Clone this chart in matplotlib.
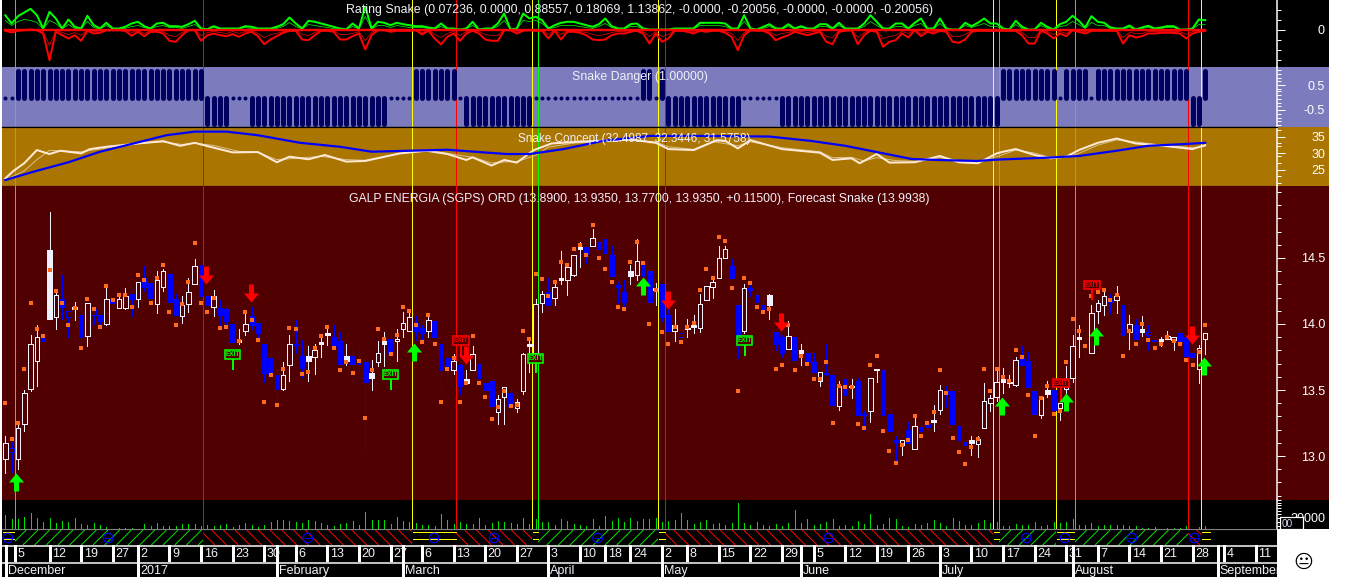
import numpy as np
import matplotlib
matplotlib.use("Agg")
import matplotlib.pyplot as plt
from matplotlib.collections import LineCollection
from matplotlib.patches import Rectangle

W, H = 1352, 577
plt.rcParams['font.family'] = ['Liberation Sans', 'DejaVu Sans']

# daily bars, Dec 2016 - Aug 2017
opens = [12.98,13.06,12.98,13.24,13.51,13.72,13.92,14.04,14.05,14.19,
         14.10,14.11,14.07,13.91,14.11,14.07,14.00,14.18,14.12,14.12,
         14.23,14.19,14.35,14.31,14.15,14.28,14.38,14.19,14.06,14.15,
         14.30,14.45,14.21,14.13,14.12,14.11,14.00,13.86,13.95,14.06,
         14.01,13.85,13.74,13.61,13.51,13.69,13.85,13.76,13.72,13.75,
         13.85,13.92,13.90,13.87,13.72,13.76,13.73,13.71,13.59,13.71,
         13.85,13.89,13.87,13.96,13.95,14.01,13.97,13.95,14.02,13.85,
         13.74,13.65,13.69,13.55,13.65,13.70,13.55,13.57,13.33,13.45,
         13.48,13.36,13.49,13.83,13.78,14.16,14.24,14.20,14.33,14.33,
         14.37,14.57,14.58,14.59,14.62,14.64,14.52,14.29,14.24,14.36,
         14.37,14.46,14.40,14.26,14.30,14.07,13.95,13.93,13.96,13.98,
         13.97,14.18,14.28,14.35,14.50,14.44,14.14,13.95,14.27,14.22,
         14.14,14.14,13.94,13.90,13.81,13.90,13.78,13.78,13.71,13.57,
         13.63,13.61,13.38,13.58,13.52,13.57,13.32,13.34,13.65,13.65,
         13.32,13.12,13.08,13.20,13.05,13.22,13.24,13.26,13.35,13.49,
         13.49,13.23,13.11,13.10,13.09,13.21,13.40,13.45,13.56,13.55,
         13.54,13.74,13.72,13.49,13.31,13.47,13.50,13.36,13.51,13.59,
         13.89,13.85,13.78,14.10,14.14,14.18,14.18,14.14,13.94,13.99,
         13.94,13.94,13.88,13.87,13.89,13.88,13.93,13.90,13.78,13.66,
         13.89]
highs = [13.15,13.11,13.25,13.50,13.92,13.99,14.00,14.85,14.26,14.37,
         14.10,14.17,14.16,14.16,14.12,14.07,14.28,14.21,14.23,14.27,
         14.23,14.32,14.44,14.31,14.40,14.42,14.40,14.23,14.21,14.35,
         14.49,14.45,14.26,14.26,14.18,14.12,14.00,13.96,14.09,14.13,
         14.01,13.85,13.83,13.65,13.71,13.92,14.03,13.88,13.83,13.85,
         13.92,13.99,13.99,13.94,13.85,13.83,13.82,13.76,13.73,13.87,
         13.94,13.96,13.96,14.09,14.08,14.06,13.99,14.07,14.02,13.85,
         13.88,13.77,13.70,13.65,13.83,13.75,13.66,13.57,13.46,13.52,
         13.53,13.43,13.78,13.90,14.19,14.25,14.35,14.33,14.55,14.46,
         14.52,14.62,14.58,14.72,14.62,14.64,14.59,14.32,14.33,14.45,
         14.64,14.56,14.40,14.31,14.30,14.17,14.11,13.93,14.04,14.07,
         14.23,14.29,14.36,14.59,14.59,14.49,14.14,14.30,14.31,14.29,
         14.22,14.23,13.94,13.92,14.02,13.90,13.85,13.88,13.78,13.64,
         13.85,13.70,13.57,13.61,13.58,13.59,13.34,13.59,13.66,13.65,
         13.32,13.15,13.12,13.26,13.29,13.24,13.33,13.39,13.54,13.53,
         13.49,13.35,13.13,13.15,13.15,13.55,13.46,13.65,13.67,13.61,
         13.75,13.83,13.79,13.50,13.45,13.57,13.50,13.40,13.68,13.92,
         13.99,13.92,14.14,14.18,14.24,14.23,14.29,14.14,14.07,14.04,
         14.06,13.99,13.95,13.90,13.95,13.90,13.93,13.90,13.81,13.84,
         13.935]
lows = [12.87,12.88,12.90,13.19,13.49,13.53,13.75,14.04,13.96,14.04,
        13.90,14.03,13.86,13.83,14.00,13.97,13.99,14.13,14.12,14.11,
        14.06,14.13,14.25,14.20,14.08,14.25,14.17,14.07,14.01,14.09,
        14.30,14.21,14.14,14.06,13.98,13.98,13.86,13.85,13.92,13.96,
        13.88,13.56,13.62,13.42,13.50,13.57,13.78,13.60,13.57,13.62,
        13.75,13.84,13.82,13.70,13.69,13.55,13.64,13.04,13.50,13.68,
        13.68,13.63,13.72,13.90,13.95,13.88,13.87,13.90,13.88,13.46,
        13.59,13.62,13.47,13.55,13.65,13.59,13.47,13.38,13.24,13.24,
        13.38,13.33,13.47,13.64,13.78,14.09,14.14,14.14,14.30,14.22,
        14.36,14.43,14.46,14.59,14.42,14.30,14.36,14.16,14.12,14.30,
        14.33,14.36,14.13,14.14,14.02,13.95,13.87,13.85,13.90,13.93,
        13.94,14.18,14.20,14.35,14.50,14.35,13.74,13.93,14.21,14.16,
        14.11,14.04,13.80,13.75,13.81,13.73,13.69,13.64,13.64,13.53,
        13.61,13.34,13.35,13.46,13.44,13.31,13.20,13.26,13.56,13.31,
        13.19,12.96,13.01,13.10,13.05,13.01,13.15,13.19,13.32,13.37,
        13.21,13.08,12.95,13.01,12.99,13.21,13.34,13.42,13.48,13.52,
        13.53,13.69,13.52,13.32,13.29,13.45,13.35,13.27,13.46,13.56,
        13.75,13.73,13.78,14.01,14.07,14.08,14.08,13.88,13.81,13.89,
        13.91,13.80,13.78,13.83,13.89,13.80,13.87,13.76,13.68,13.55,
        13.77]
closes = [13.10,13.03,13.21,13.48,13.85,13.90,13.87,14.56,14.22,14.13,
          14.05,14.13,13.90,14.16,14.07,14.02,14.19,14.16,14.19,14.21,
          14.19,14.32,14.28,14.20,14.33,14.40,14.17,14.07,14.14,14.24,
          14.44,14.21,14.14,14.21,14.07,14.02,13.86,13.88,14.00,13.99,
          13.93,13.63,13.62,13.51,13.61,13.85,13.84,13.67,13.76,13.80,
          13.86,13.93,13.83,13.70,13.76,13.70,13.70,13.56,13.63,13.78,
          13.87,13.78,13.89,14.01,14.05,13.95,13.93,14.03,13.90,13.65,
          13.66,13.72,13.53,13.58,13.77,13.59,13.50,13.38,13.43,13.52,
          13.38,13.41,13.77,13.85,14.15,14.23,14.14,14.28,14.35,14.43,
          14.52,14.58,14.53,14.65,14.57,14.54,14.36,14.28,14.17,14.40,
          14.48,14.36,14.17,14.27,14.05,13.95,13.99,13.90,13.97,13.99,
          14.15,14.29,14.32,14.50,14.57,14.35,13.89,14.27,14.26,14.17,
          14.11,14.22,13.85,13.78,13.91,13.73,13.80,13.71,13.64,13.64,
          13.62,13.39,13.53,13.46,13.53,13.31,13.31,13.59,13.66,13.31,
          13.19,13.11,13.12,13.10,13.23,13.19,13.22,13.27,13.50,13.47,
          13.24,13.12,13.08,13.12,13.13,13.42,13.44,13.56,13.58,13.56,
          13.73,13.69,13.52,13.32,13.45,13.50,13.35,13.40,13.53,13.83,
          13.90,13.84,14.08,14.16,14.21,14.17,14.21,13.92,14.00,13.89,
          13.96,13.92,13.87,13.89,13.91,13.90,13.87,13.76,13.75,13.82,
          13.935]
solid_white = [7,11,37,48,50,51,54,58,60,73,83,88,91,99,103,108,109,121,126,134,147,153,158,165,170,180,183]
open_blue = [1,10,14,107,181]

forecast = [13.40,13.13,13.25,13.66,14.16,13.96,13.91,14.41,14.25,14.16,
            13.99,14.12,13.82,14.19,14.11,13.98,14.29,14.18,14.22,14.22,
            14.13,14.37,14.33,14.16,14.35,14.45,14.09,13.99,14.15,14.32,
            14.61,14.16,14.09,14.20,13.97,13.98,np.nan,13.87,14.09,14.03,
            13.88,13.41,13.61,13.39,13.66,13.97,13.96,13.62,13.64,13.82,
            13.91,13.98,13.82,13.65,13.71,13.63,13.72,13.29,13.65,13.96,
            13.89,13.77,13.92,14.13,14.10,13.99,13.86,14.07,13.85,13.41,
            13.66,13.74,13.41,13.55,13.91,13.55,13.45,13.28,13.37,13.49,
            13.38,13.39,13.95,13.89,14.38,14.34,14.21,14.32,14.47,14.45,
            14.57,14.60,14.52,14.75,14.50,14.42,14.32,14.13,14.11,14.47,
            14.62,14.46,14.00,14.26,13.94,13.85,13.98,13.86,13.98,14.01,
            14.26,14.42,14.35,14.66,14.63,14.27,13.49,14.35,14.31,14.13,
            14.09,14.11,13.66,13.69,13.99,13.65,13.76,13.70,13.58,13.58,
            13.71,13.25,13.53,13.52,13.52,13.24,13.21,13.69,13.76,13.19,
            13.04,12.95,13.08,13.12,13.30,13.15,13.25,13.33,13.65,13.48,
            13.14,13.03,12.94,13.07,13.13,13.66,13.49,13.66,13.60,13.57,
            13.80,13.75,13.46,13.15,13.44,13.53,13.32,13.34,13.71,14.04,
            13.95,13.83,14.21,14.24,14.26,14.18,14.22,13.76,13.95,13.85,
            14.00,13.88,13.82,13.85,13.90,13.87,13.85,13.73,13.69,13.79,
            13.99]

# buy / sell arrows and exit flags (bar position, price)
up_arrow_bar = [1.77,64.77,100.93,157.78,167.92,172.76,189.86]
up_arrow_price = [12.803,13.788,14.288,13.379,13.409,13.909,13.682]
down_arrow_bar = [31.73,38.86,72.95,104.89,122.79,187.87]
down_arrow_price = [14.371,14.235,13.765,14.182,14.015,13.917]
exit_green_bar = [36.0,61.03,83.99,117.09]
exit_green_top = [13.769,13.617,13.739,13.875]
exit_green_end = [13.652,13.50,13.629,13.758]
exit_red_bar = [72.16,172.08,167.17]
exit_red_top = [13.875,14.295,13.553]
exit_red_end = [13.758,14.182,13.409]

# signal lines across the panels
signal_bar = [1.46,31.35,64.45,71.42,83.45,84.4,103.4,104.5,156.45,157.4,166.4,169.4,187.3,189.4]
signal_color = ['#00ff00','#ff0000','#ffff00','#ff0000','#ffff00','#00ff00','#ffff00','#ff0000',
                '#ffff00','#00ff00','#ffff00','#00ff00','#ff0000','#ffff00']

# Rating Snake
rating_green = [1.43,.6,1.33,1.7,2.07,1.43,.1,1.77,1.1,.1,
                1,.27,.1,1.37,.43,.1,.67,.1,.1,.27,
                .6,.77,.33,.1,.6,.67,.33,.33,.27,.53,
                .87,.1,.03,.33,.1,.1,.1,.1,.33,.27,
                .1,.1,.1,.27,.53,1.2,.6,.1,.87,.77,
                .6,.43,.27,.1,.03,.6,.1,2.27,.1,.77,
                .67,.43,.67,.53,.43,.33,.33,.2,.1,.6,
                .1,.1,0,.1,.77,0,.1,.1,.6,1.6,
                0,.1,1.6,1.1,1.27,.93,.1,.43,.67,.77,
                .77,.6,.43,.27,.53,1.1,.33,.1,.1,.53,
                .6,.1,0,0,0,0,.1,.1,.1,.1,
                .67,.67,.67,.67,.6,.1,.1,1.43,.1,0,
                .27,.53,.1,.1,.53,.1,.33,.1,.1,.53,
                .53,.1,.67,.1,.1,.1,.6,1.43,.77,.1,
                .1,.6,.6,.1,.67,1.1,.1,.1,1.1,.1,
                0,0,.67,.33,.67,1.1,.6,.6,.1,0,
                .87,.27,0,0,.67,.27,0,.53,.77,1.37,
                .87,.2,1.33,.77,.67,.2,.1,.1,.4,0,
                .2,.37,.1,.2,.33,.33,0,0,.1,1,
                .93]
rating_red = [-.13,-.3,-.13,-.07,0,-.07,-.4,-3.07,-.23,-.57,
              -.9,-.57,-1.13,-.13,-.4,-.33,-.07,-.07,-.07,-.13,
              -.63,-.23,-.67,-.23,-.23,-.4,-1.13,-1.23,-.57,-.07,
              -.07,-1.13,-.57,-.4,-.57,-.67,-.47,-.73,-.4,-.23,
              -.67,-1.47,-1,-.67,-.33,-.13,-.13,-1,-1.07,-.57,
              -.13,-.13,-.23,-1,-1,-.67,-.4,-2,-.57,-.07,
              -.07,-.23,-.13,-.13,-.13,-.07,-.5,-.13,-.9,-1.5,
              -.73,-.4,-1.13,-.4,-.13,-.4,-1,-1.13,-1.13,-.07,
              -.07,-.4,-.13,-.07,-.13,-.13,-.9,-.13,-1,-.23,
              -.23,-.33,-.57,-1,-1.07,-1,-.57,-.4,-.4,-.23,
              -.13,-.4,-1.4,-.4,-1.23,-.9,-.13,-.13,-.23,-.4,
              -.13,-.23,-.13,-.13,-.33,-.73,-2.07,-.57,-.07,-.13,
              -.13,-.4,-1.07,-.8,-.57,-.23,-.4,-.57,-.4,-.23,
              -1.23,-1.47,-.23,-.13,-.07,-1.47,-.57,-.13,-.23,-1.73,
              -1.23,-1.07,-.4,-.8,-.07,-.67,-.23,-.4,-.13,-.23,
              -1.23,-1.33,-1,-.23,-.13,-.13,-.13,-.13,-.13,-.13,
              -.13,-.57,-1.4,-1.4,-.13,-.4,-.9,-.4,-.67,-.07,
              -.23,-.4,-.13,-.13,-.13,-.13,-.13,-1.4,-.57,-.8,
              -.67,-.4,-.4,-.33,-.33,-.33,-.4,-.9,-.4,-.23,-.13]
rating_green_thin = [.9,.4,.8,1.0,.9,.7,.05,.9,.6,.05,
                     .5,.1,.05,.8,.2,.05,.4,.05,.05,.1,
                     .3,.4,.2,.05,.3,.4,.2,.2,.1,.3,
                     .5,.05,0,.2,.05,.05,.05,.05,.2,.1,
                     .05,.05,.05,.1,.3,.7,.3,.05,.5,.4,
                     .3,.2,.1,.05,0,.3,.05,1.3,.05,.4,
                     .4,.2,.4,.3,.2,.2,.2,.1,.05,.3,
                     .05,.05,0,.05,.4,0,.05,.05,.3,.9,
                     0,.05,.9,.8,.9,.6,.05,.2,.4,.4,
                     .4,.3,.2,.1,.3,.6,.2,.05,.05,.3,
                     .3,.05,0,0,0,0,.05,.05,.05,.05,
                     .4,.4,.4,.4,.3,.05,.05,.8,.05,0,
                     .1,.3,.05,.05,.3,.05,.2,.05,.05,.3,
                     .3,.05,.4,.05,.05,.05,.3,.8,.4,.05,
                     .05,.3,.3,.05,.4,.6,.05,.05,.6,.05,
                     0,0,.4,.2,.4,.6,.3,.3,.05,0,
                     .5,.1,0,0,.4,.1,0,.3,.4,.8,
                     .5,.1,.7,.4,.4,.1,.05,.05,.2,0,
                     .1,.2,.05,.1,.2,.2,0,0,.05,.5,
                     .5]
rating_red_thin = [-.05,-.15,-.05,0,0,0,-.2,-1.6,-.1,-.3,
                   -.5,-.3,-.6,-.05,-.2,-.15,0,0,0,-.05,
                   -.3,-.1,-.4,-.1,-.1,-.2,-.6,-.7,-.3,0,
                   0,-.6,-.3,-.2,-.3,-.4,-.2,-.4,-.2,-.1,
                   -.4,-.8,-.5,-.4,-.2,-.05,-.05,-.5,-.6,-.3,
                   -.05,-.05,-.1,-.5,-.5,-.4,-.2,-1.1,-.3,0,
                   0,-.1,-.05,-.05,-.05,0,-.3,-.05,-.5,-.8,
                   -.4,-.2,-.6,-.2,-.05,-.2,-.5,-.6,-.6,0,
                   0,-.2,-.05,0,-.05,-.05,-.5,-.05,-.5,-.1,
                   -.1,-.2,-.3,-.5,-.6,-.5,-.3,-.2,-.2,-.1,
                   -.05,-.2,-.7,-.2,-.7,-.5,-.05,-.05,-.1,-.2,
                   -.05,-.1,-.05,-.05,-.2,-.4,-1.1,-.3,0,-.05,
                   -.05,-.2,-.6,-.4,-.3,-.1,-.2,-.3,-.2,-.1,
                   -.7,-.8,-.1,-.05,0,-.8,-.3,-.05,-.1,-.9,
                   -.7,-.6,-.2,-.4,0,-.4,-.1,-.2,-.05,-.1,
                   -.7,-.7,-.5,-.1,-.05,-.05,-.05,-.05,-.05,-.05,
                   -.05,-.3,-.8,-.8,-.05,-.2,-.5,-.2,-.4,0,
                   -.1,-.2,-.05,-.05,-.05,-.05,-.05,-.8,-.3,-.4,
                   -.4,-.2,-.2,-.2,-.2,-.2,-.2,-.5,-.2,-.1,-.05]

# Snake Danger, as runs of equal state
danger_levels = [0,1,-1,0,-1,0,1,0,-1,0,1,0,1,-1,0,-1,1,0,1,0,1,-1,1]
danger_counts = [2,30,4,3,22,4,7,1,11,17,2,1,1,12,6,35,9,1,4,1,15,2,1]

# Snake Concept
concept_blue_bar = [0,4.4,10,15,20.3,25.5,30,35,40,46.7,53,58,64,70,79.4,83,88.4,94.7,102,110,121,127.5,133,138,143.5,147.5,153.9,157,165,170,176,181,186.5,190]
concept_blue = [21.8,24.3,27.2,30.4,32.9,35.4,36.5,36.5,35.4,33.1,31.9,30.4,30.7,31.0,29.7,29.7,31.2,33.7,35.2,35.2,35.0,33.7,32.2,30.3,28.2,27.9,27.6,28.0,28.6,29.1,30.7,32.2,32.7,33.1]
concept_white_bar = [0,1.3,3,5,7,8.7,12,13.4,16,21,25,27.7,30,32,36,40,43,45,48,50.6,54,57,62.5,66.7,70,73,74,77,79,81,83.7,86.5,90.5,99,103,105,109,112.7,114,116,118,123,129,131,134,135.3,138,140,144,148,151,154,157,158,160,163,165.5,168,170,173,176,179,182.5,188,190]
concept_white = [22.3,24.6,26.9,30.9,29.7,30.7,29.9,31.2,31.9,32.9,33.6,32.2,33.1,32.1,30.2,30.3,27.2,28.9,28.1,29.4,27.4,27.6,29.9,30.7,29.7,27.9,28.7,26.2,27.9,27.1,30.9,32.9,33.4,34.1,33.1,31.2,30.9,33.9,33.7,31.4,33.9,31.2,30.1,27.9,28.4,26.9,29.7,27.1,27.2,29.1,27.2,26.9,29.9,30.4,31.2,29.4,28.4,28.9,30.9,33.1,34.4,32.9,32.4,31.2,32.4]
concept_thin_bar = [0,3,5,7,12,16,21,25,28,30,33,37,40,43,46,50,54,57,62,67,70,74,77,79,81,84,86,90,99,103,105,109,112,116,118,123,129,131,134,136,138,141,144,148,151,154,157,160,163,165,168,170,173,176,179,182,188,190]
concept_thin = [21.8,24.6,28,30.8,30.4,31.5,32.9,33.4,32.6,33,32.3,30.5,30.2,28,28.4,29,28,27.8,29.7,30.7,29.9,28.7,27,27.3,27.4,29.3,31.8,33,33.9,33.4,31.9,31.1,33.5,32.2,33.4,31.6,30.4,28.6,28.7,27.6,28.6,27.7,27.5,28.6,27.7,27.2,28.9,30.9,30,28.9,28.8,29.9,32.4,34,33.4,32.6,31.6,32]

# volume, in tenths of the label unit
volume = [14,10,10,12,16,11,7,11,6,8,
          7,11,5,4,6,4,2,.5,1,1,
          1,.3,5,3,6,3,3,3,5,5,
          5,3,4,3,4,5,2,4,6,4,
          2,4,7,9,9,8,7,6,9,8,
          6,4,3,5,6,8,4,17,9,9,
          9,5,12,8,7,6,4,4,3,15,
          9,5,7,5,5,11,4,6,8,7,
          6,5,11,5,10,7,7,4,10,8,
          5,4,3,10,3,13,8,11,7,11,
          8,10,10,11,7,8,9,16,9,5,
          7,9,5,6,4,6,26,6,4,7,
          4,3,5,3,6,19,6,10,4,5,
          7,10,3,4,3,8,5,15,4,5,
          11,10,3,2,5,4,6,9,6,3,
          11,8,4,4,6,9,6,7,3,3,
          5,4,4,7,3,4,7,6,7,10,
          4,4,6,3,4,4,4,4,3,3,
          1,.7,2,.5,1,1,1,3,.5,2,
          3]

# trend strip: start, end, kind and icon position of each stretch
strip_start = [-0.5,1.46,31.35,64.45,71.42,83.45,84.4,103.4,104.5,156.45,157.4,166.4,169.4,187.3,189.4]
strip_end = [1.46,31.35,64.45,71.42,83.45,84.4,103.4,104.5,156.45,157.4,166.4,169.4,187.3,189.4,190.8]
strip_kind = ['y','g','r','y','r','y','g','y','r','y','g','y','g','r','y']
icon_bar = [0.4,16.3,47.9,67.9,77.4,93.8,130.4,161.7,167.8,178.4,188.3]

# date axis
day_bar = [1.6,7,12,17,21,26,31,36,41,46,51,56,61,66,71,76,81,86,91,95,99,104,108,113,118,123,128,133,138,143,148,153,158,163,168,173,178,183,188,193,198]
day_label = ['5','12','19','27','2','9','16','23','30','6','13','20','27','6','13','20','27','3','10','18','24','2','8','15','22','29','5','12','19','26','3','10','17','24','31','7','14','21','28','4','11']
month_bar = [0.1,21,43,63,86,104,126,148,169,192]
month_label = ['December','2017','February','March','April','May','June','July','August','September']

BAR0, BARSTEP = 5.3, 6.315
XLIM = ((2 - BAR0) / BARSTEP, (1277 - BAR0) / BARSTEP)
bars = np.arange(len(opens))
PANEL = '#500000'
TXT = '#f0f0f8'


def panel_axes(y0, y1, color, x0=2, x1=1277):
    ax = fig.add_axes([x0 / W, 1 - y1 / H, (x1 - x0) / W, (y1 - y0) / H])
    ax.set_facecolor(color)
    ax.set_xlim(*XLIM)
    ax.set_xticks([])
    ax.set_yticks([])
    for s in ax.spines.values():
        s.set_visible(False)
    return ax


def right_axis(ax, y0, y1, color, majors, labels, minors):
    # coloured column right of the plot
    col = fig.add_axes([1277 / W, 1 - y1 / H, 52 / W, (y1 - y0) / H], zorder=-1)
    col.set_facecolor(color)
    col.set_xticks([])
    col.set_yticks([])
    for s in col.spines.values():
        s.set_visible(False)
    ax.yaxis.tick_right()
    ax.spines['right'].set_visible(True)
    ax.spines['right'].set_color('white')
    ax.spines['right'].set_linewidth(1.5)
    ax.set_yticks(majors, labels)
    ax.set_yticks(minors, minor=True)
    ax.tick_params(axis='y', which='major', colors='white', length=8, width=1, pad=40, labelsize=12.5)
    ax.tick_params(axis='y', which='minor', colors='white', length=4, width=1)
    for t in ax.get_yticklabels():
        t.set_ha('right')


def signals(ax):
    ax.vlines(signal_bar, 0, 1, transform=ax.get_xaxis_transform(), colors=signal_color, lw=1, antialiased=False, zorder=1.5)


fig = plt.figure(figsize=(W / 72, H / 72), dpi=72, facecolor='white')

# Rating Snake
ax1 = panel_axes(0, 67, 'black')
ax1.set_ylim(-3.75, 2.95)
signals(ax1)
ax1.plot(bars, rating_green_thin, color='#00ff00', lw=0.7, zorder=2)
ax1.plot(bars, rating_red_thin, color='#ff0000', lw=0.7, zorder=2)
ax1.plot(bars, rating_green, color='#00ff00', lw=2, zorder=3)
ax1.plot(bars, rating_red, color='#ff0000', lw=2, zorder=3)
ax1.plot(bars, np.full(len(bars), -0.05), color='#ff0000', lw=2.4, zorder=4)
right_axis(ax1, 0, 67, 'black', [0], ['0'], [-3, -2, -1, 1, 2])

# Snake Danger
ax2 = panel_axes(67, 127, '#7b7bbd')
ax2.set_ylim(-1.18, 1.22)
signals(ax2)
danger = np.repeat(danger_levels, danger_counts) * 1.05
on = danger != 0
ax2.vlines(bars[on], 0, danger[on], colors='#000060', lw=5, capstyle='round', zorder=2)
ax2.scatter(bars[~on], danger[~on], s=16, color='#000060', marker='o', linewidths=0, zorder=2)
right_axis(ax2, 67, 127, '#7b7bbd', [0.5, -0.5], ['0.5', '-0.5'],
           [-1.1, -.95, -.8, -.65, -.35, -.2, -.05, .1, .25, .35, .65, .8, .95, 1.1])
ax2.axhline(-1.18, color='black', lw=1.2)

# Snake Concept
ax3 = panel_axes(127, 186, '#aa7500')
ax3.set_ylim(20, 37.9)
signals(ax3)
ax3.plot(concept_thin_bar, concept_thin, color='#d8be8c', lw=1, zorder=2)
ax3.plot(concept_white_bar, concept_white, color='#ffe9d6', lw=2, zorder=3)
ax3.plot(concept_blue_bar, concept_blue, color='#0000ff', lw=2.2, zorder=4)
right_axis(ax3, 127, 186, '#aa7500', [35, 30, 25], ['35', '30', '25'], [21, 23, 27, 29, 32, 33, 37])
ax3.spines['top'].set_visible(True)
ax3.spines['top'].set_linewidth(1.2)
ax3.spines['top'].set_color('black')
ax3.axhline(20, color='black', lw=1.2)

# price panel
ax4 = panel_axes(186, 500, PANEL)
ax4.set_ylim(12.667, 15.045)
signals(ax4)
o = np.array(opens)
c = np.array(closes)
up = c >= o
filled = np.isin(bars, solid_white)
hollow_blue = np.isin(bars, open_blue)
wick_col = np.where(up, '#f0f0ff', '#0000ff')
ax4.vlines(bars, lows, highs, colors=wick_col, lw=1, antialiased=False, zorder=2)
tops = np.maximum(o, c)
bots = np.minimum(o, c)
heights = np.maximum(tops - bots, 0.012)
face = [('#f0f0ff' if filled[i] else PANEL) if up[i] else (PANEL if hollow_blue[i] else '#0000ff') for i in bars]
edge = ['#f0f0ff' if up[i] else '#0000ff' for i in bars]
ax4.bar(bars, heights, bottom=bots, width=0.72, color=face, edgecolor=edge, linewidth=1, zorder=3, antialiased=False)
dot_verts = [(-2, -1.6), (2, -1.6), (2, 1.6), (-2, 1.6)]
ax4.scatter(bars, forecast, s=22, color='#ff6a1e', marker=dot_verts, linewidths=0, zorder=4)

up_verts = [(0, 9), (7.5, 0), (2.5, 0), (2.5, -9), (-2.5, -9), (-2.5, 0), (-7.5, 0)]
down_verts = [(x, -y) for x, y in up_verts]
ax4.scatter(up_arrow_bar, up_arrow_price, s=324, marker=up_verts, color='#00ff00', linewidths=0, zorder=6)
ax4.scatter(down_arrow_bar, down_arrow_price, s=324, marker=down_verts, color='#ff0000', linewidths=0, zorder=6)
for bar_list, top_list, end_list, col in [(exit_green_bar, exit_green_top, exit_green_end, '#00ff00'),
                                          (exit_red_bar, exit_red_top, exit_red_end, '#ff0000')]:
    ax4.vlines(bar_list, end_list, top_list, colors=col, lw=2, zorder=5, antialiased=False)
    for b, t in zip(bar_list, top_list):
        ax4.text(b, t, 'EXIT', fontsize=6.5, fontweight='bold', color=col, ha='center', va='center', zorder=7,
                 bbox=dict(fc=PANEL, ec=col, lw=1.6, pad=0.6))
right_axis(ax4, 186, 500, PANEL, [14.5, 14.0, 13.5, 13.0], ['14.5', '14.0', '13.5', '13.0'],
           [12.7, 12.8, 12.9, 13.1, 13.2, 13.3, 13.4, 13.6, 13.7, 13.8, 13.9, 14.1, 14.2, 14.3, 14.4, 14.6, 14.7, 14.8, 14.9, 15.0])

# volume
ax5 = panel_axes(500, 529, 'black')
ax5.set_ylim(0, 29)
signals(ax5)
ax5.vlines(bars, 0, volume, colors='#00e000', lw=1, antialiased=False, zorder=2)
right_axis(ax5, 500, 529, 'black', [11], ['20000'], [3, 7, 15, 18, 21, 24, 26.5, 29])

# box over the volume axis
box = fig.add_axes([1280 / W, 1 - 529 / H, 23 / W, 12 / H], zorder=5)
box.set_facecolor('black')
box.set_xticks([])
box.set_yticks([])
for s in box.spines.values():
    s.set_color('white')
    s.set_linewidth(1.2)
box.text(0.06, 0.42, '00', color='#d8d8f0', fontsize=10, ha='left', va='center', transform=box.transAxes)

# trend strip
ax6 = panel_axes(529, 545, 'black')
ax6.set_ylim(0, 16)
ax6.axhline(15.6, color='#808080', lw=1.2)
strip_cols = {'g': '#00e000', 'r': '#ff0000'}
slant = 15 / BARSTEP   # 45 degrees across the 15 px strip
for a, b, kind in zip(strip_start, strip_end, strip_kind):
    if kind == 'y':
        ax6.hlines([13.3, 5.7], a + 0.1, b - 0.1, colors='#ffff00', lw=1, antialiased=False)
    else:
        starts = np.arange(a - slant, b, 1.85)
        if kind == 'g':
            segs = [[(s, 0), (s + slant, 15)] for s in starts]
        else:
            segs = [[(s + slant, 0), (s, 15)] for s in starts]
        lines = LineCollection(segs, colors=strip_cols[kind], linewidths=1)
        ax6.add_collection(lines)
        lines.set_clip_path(Rectangle((a, 0), b - a, 15, transform=ax6.transData))
ax6.scatter(icon_bar, np.full(len(icon_bar), 7), s=90, facecolors='none', edgecolors='#0000ff', linewidths=1.2, zorder=4)
ax6.scatter(icon_bar, np.full(len(icon_bar), 7), s=70, marker='_', color='#0000ff', linewidths=1, zorder=4)

# day row
ax7 = panel_axes(545, 562, 'black')
ax7.set_ylim(0, 1)
ax7.axhline(0.97, color='white', lw=1.5)
ax7.vlines(day_bar, 0, 1, colors='white', lw=1.2, antialiased=False)
ax7.vlines([0.1, 43, 63, 126, 169, 192], 0, 1, colors='white', lw=1.2, antialiased=False)
for b, s in zip(day_bar, day_label):
    ax7.annotate(s, (b, 0.45), xytext=(2.5, 0), textcoords='offset points', color=TXT, fontsize=12.5,
                 ha='left', va='center', annotation_clip=True)

# month row
ax8 = panel_axes(562, 577, 'black')
ax8.set_ylim(0, 1)
ax8.axhline(0.96, color='white', lw=1.5)
ax8.vlines(month_bar, 0, 1, colors='white', lw=1.2, antialiased=False)
for b, s in zip(month_bar, month_label):
    t = ax8.annotate(s, (b, 0.42), xytext=(2, 0), textcoords='offset points', color=TXT, fontsize=12.5,
                     ha='left', va='center', annotation_clip=False)
    t.set_clip_on(True)
    t.set_clip_box(ax8.bbox)

# panel titles
titles = [(640, 10, 12.35, 'Rating Snake (0.07236, 0.0000, 0.88557, 0.18069, 1.13862, -0.0000, -0.20056, -0.0000, -0.0000, -0.20056)'),
          (640, 77, 12.35, 'Snake Danger (1.00000)'),
          (634.5, 139, 11.8, 'Snake Concept (32.4987, 32.3446, 31.5758)'),
          (639.5, 199, 12.25, 'GALP ENERGIA (SGPS) ORD (13.8900, 13.9350, 13.7700, 13.9350, +0.11500), Forecast Snake (13.9938)')]
for x, y, size, s in titles:
    fig.text(x / W, 1 - y / H, s, color=TXT, fontsize=size, ha='center', va='center', zorder=10)

fig.text(1303 / W, 1 - 562 / H, '\U0001F610', family='DejaVu Sans', fontsize=19, color='black', ha='center', va='center')

fig.savefig('out.png', dpi=72, facecolor='white')
